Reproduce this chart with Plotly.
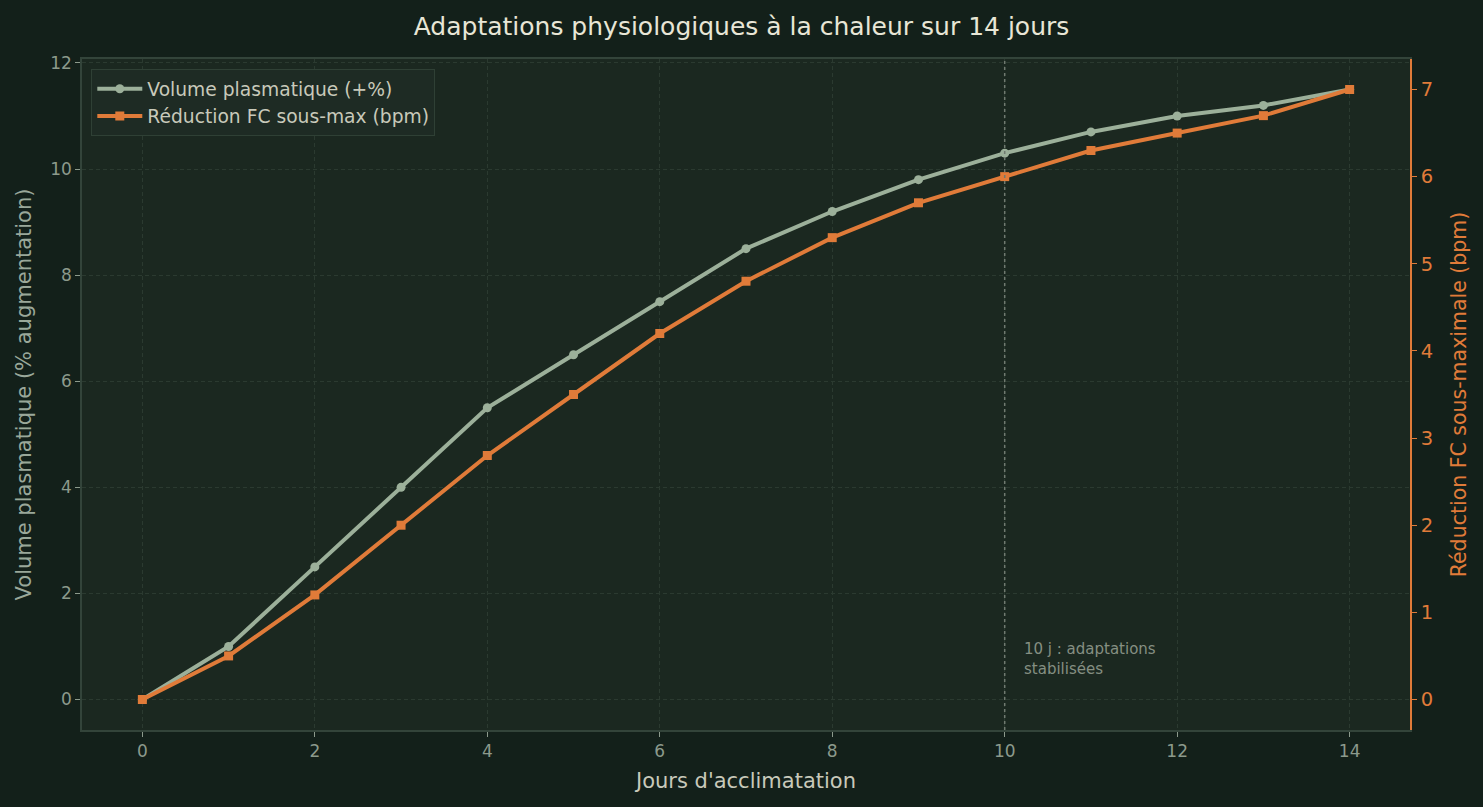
import plotly.graph_objects as go

jours = list(range(15))
volume_plasmatique = [0, 1.0, 2.5, 4.0, 5.5, 6.5, 7.5, 8.5, 9.2, 9.8, 10.3, 10.7, 11.0, 11.2, 11.5]
reduction_fc = [0, 0.5, 1.2, 2.0, 2.8, 3.5, 4.2, 4.8, 5.3, 5.7, 6.0, 6.3, 6.5, 6.7, 7.0]
x_ticks = [0, 2, 4, 6, 8, 10, 12, 14]
y_ticks = [0, 2, 4, 6, 8, 10, 12]
y2_ticks = [0, 1, 2, 3, 4, 5, 6, 7]

BG = "#13201a"
PLOT_BG = "#1b2820"
GRID = "#2b3a30"
SPINE = "#33443a"
GREEN = "#9cb09a"
ORANGE = "#e07b39"
TEXT = "#d6d8c8"
TICK = "#8c9a8c"
FONT = "DejaVu Sans"

fig = go.Figure()
fig.add_trace(go.Scatter(
    x=jours, y=volume_plasmatique, name="Volume plasmatique (+%)",
    mode="lines+markers", line=dict(color=GREEN, width=4),
    marker=dict(symbol="circle", size=9, color=GREEN), yaxis="y"))
fig.add_trace(go.Scatter(
    x=jours, y=reduction_fc, name="Réduction FC sous-max (bpm)",
    mode="lines+markers", line=dict(color=ORANGE, width=4),
    marker=dict(symbol="square", size=9, color=ORANGE), yaxis="y2"))

fig.add_shape(type="line", x0=10, x1=10, y0=0, y1=1, xref="x", yref="paper",
              line=dict(color="#707a70", width=1.5, dash="dot"))
fig.add_annotation(x=10.2, y=0.77, xref="x", yref="y", text="10 j : adaptations<br>stabilisées",
                   showarrow=False, xanchor="left", yanchor="middle", align="left",
                   font=dict(family=FONT, size=15, color="#858f82"))

fig.update_layout(
    width=1483, height=807,
    paper_bgcolor=BG, plot_bgcolor=PLOT_BG,
    margin=dict(l=82, r=73, t=59, b=77),
    font=dict(family=FONT, color=TEXT),
    title=dict(text="Adaptations physiologiques à la chaleur sur 14 jours",
               x=0.5, xanchor="center", y=0.967, yanchor="middle",
               font=dict(family=FONT, size=25, color="#e8e6d6")),
    showlegend=True,
    legend=dict(x=0.007, y=0.985, xanchor="left", yanchor="top",
                bgcolor="#1e2b24", bordercolor="#2f4035", borderwidth=1,
                font=dict(family=FONT, size=18.7, color="#c8c9ba"),
                itemwidth=45, tracegroupgap=4),
    xaxis=dict(range=[-0.7, 14.7], tickvals=x_ticks, ticks="outside", ticklen=5,
               tickcolor=TICK, tickfont=dict(size=17, color=TICK),
               showgrid=True, gridcolor=GRID, griddash="4px,3px", gridwidth=1,
               showline=True, linecolor=SPINE, linewidth=1.5, mirror=True, zeroline=False,
               title=dict(text="Jours d'acclimatation", font=dict(size=21, color="#c8c9ba"),
                          standoff=13)),
    yaxis=dict(range=[-0.575, 12.075], tickvals=y_ticks, ticks="outside", ticklen=5,
               tickcolor=TICK, tickfont=dict(size=17, color=TICK),
               showgrid=True, gridcolor=GRID, griddash="4px,3px", gridwidth=1,
               showline=True, linecolor=SPINE, linewidth=1.5, zeroline=False,
               title=dict(text="Volume plasmatique (% augmentation)",
                          font=dict(size=21, color="#9aa89a"), standoff=13)),
    yaxis2=dict(range=[-0.35, 7.35], tickvals=y2_ticks, overlaying="y", side="right",
                ticks="outside", ticklen=5, tickcolor=ORANGE,
                tickfont=dict(size=19.5, color=ORANGE), showgrid=False, zeroline=False,
                showline=True, linecolor=ORANGE, linewidth=1.5,
                title=dict(text="Réduction FC sous-maximale (bpm)",
                           font=dict(size=20.5, color=ORANGE), standoff=20)),
)

fig.write_html("out.html")
